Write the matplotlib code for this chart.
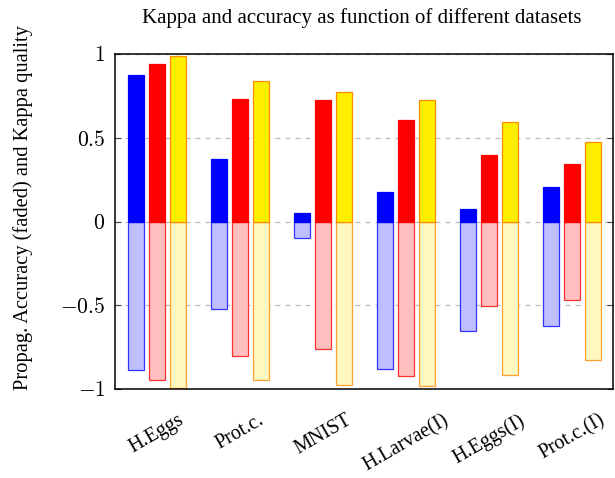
import matplotlib
matplotlib.use('Agg')
import matplotlib.pyplot as plt
import numpy as np

# Werte
datasets = ['H.Eggs', 'Prot.c.', 'MNIST', 'H.Larvae(I)', 'H.Eggs(I)', 'Prot.c.(I)']
kappa_blue = [0.88, 0.375, 0.052, 0.178, 0.078, 0.208]
kappa_red = [0.946, 0.734, 0.726, 0.606, 0.396, 0.342]
kappa_yellow = [0.99, 0.844, 0.778, 0.726, 0.596, 0.474]
acc_blue = [0.888, 0.524, 0.098, 0.884, 0.656, 0.624]
acc_red = [0.950, 0.804, 0.764, 0.922, 0.506, 0.470]
acc_yellow = [0.998, 0.950, 0.977, 0.982, 0.916, 0.828]

plt.rcParams['font.family'] = ['Liberation Serif', 'DejaVu Serif']
plt.rcParams['mathtext.fontset'] = 'cm'

fig = plt.figure(figsize=(6.15, 4.78), dpi=100)
ax = fig.add_axes([0.187, 0.187, 0.809, 0.699])

x = np.arange(len(datasets))
w = 0.198
off = 0.253

series = [
    (kappa_blue, acc_blue, '#0000FF', '#0000FF', '#BFBFFF', '#3333FF'),
    (kappa_red, acc_red, '#FF0000', '#FF0000', '#FFBFBF', '#FF3030'),
    (kappa_yellow, acc_yellow, '#FFEE00', '#FF8C00', '#FFF8C0', '#FFA030'),
]

for i, (kap, acc, fc, ec, fc2, ec2) in enumerate(series):
    pos = x + (i - 1) * off
    ax.bar(pos, -np.array(acc), width=w, color=fc2, edgecolor=ec2, linewidth=0.9, zorder=2)
    ax.bar(pos, kap, width=w, color=fc, edgecolor=ec, linewidth=0.9, zorder=3)

ax.set_xlim(-0.505, 5.49)
ax.set_ylim(-1, 1)
ax.set_yticks([-1, -0.5, 0, 0.5, 1])
ax.set_yticklabels([r'$-1$', r'$-0.5$', r'$0$', r'$0.5$', r'$1$'], fontsize=15.5)
ax.set_xticks(x)
ax.set_xticklabels(datasets, rotation=30, ha='center', va='top', fontsize=14.5)
ax.tick_params(axis='x', length=0, pad=16)
ax.tick_params(axis='y', direction='in', length=4, right=True, pad=7, color='#444444')
ax.yaxis.grid(True, linestyle=(0, (4, 4)), color='#BBBBBB', linewidth=0.9)
ax.set_axisbelow(True)
for s in ax.spines.values():
    s.set_linewidth(1.1)

fig.text(0.588, 0.962, 'Kappa and accuracy as function of different datasets',
         ha='center', va='center', fontsize=15)
fig.text(0.037, 0.565, 'Propag. Accuracy (faded) and Kappa quality',
         rotation=90, ha='center', va='center', fontsize=14.8)

fig.savefig('out.png', dpi=100)
